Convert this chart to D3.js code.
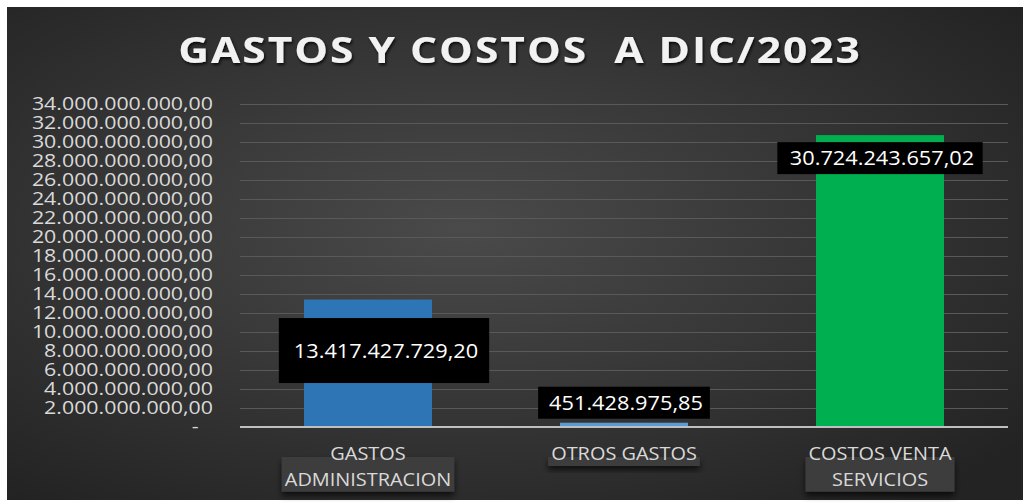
<!DOCTYPE html>
<html>
<head>
<meta charset="utf-8">
<script src="https://cdn.jsdelivr.net/npm/d3@7"></script>
<style>
  html, body { margin: 0; padding: 0; background: #ffffff; }
  svg { display: block; }
  text { font-family: "Open Sans", sans-serif; }
</style>
</head>
<body>
<div id="chart"></div>
<script>
// data
const title = "GASTOS Y COSTOS  A DIC/2023";
const categories = ["GASTOS ADMINISTRACION", "OTROS GASTOS", "COSTOS VENTA SERVICIOS"];
const categoryLines = [["GASTOS", "ADMINISTRACION"], ["OTROS GASTOS"], ["COSTOS VENTA", "SERVICIOS"]];
const values = [13417427729.20, 451428975.85, 30724243657.02];
const yTicks = d3.range(0, 34e9 + 1, 2e9);

// styles / layout
const barColors = ["#2e75b6", "#5b9bd5", "#00b050"];
// manual placement of the data labels (offset from bar centre / bar top), box size
const labelLayout = [
  {dx: 16, dy: 51, extraW: 26, h: 65},
  {dx: 0, dy: -20, extraW: 18, h: 32},
  {dx: 0, dy: 23, extraW: 21, h: 32}
];

const width = 1023, height = 502;
const margin = {top: 104, right: 15, bottom: 75, left: 240};

const svg = d3.select("#chart").append("svg")
  .attr("width", width)
  .attr("height", height);

const defs = svg.append("defs");
const grad = defs.append("radialGradient")
  .attr("id", "bg")
  .attr("cx", "45%").attr("cy", "45%").attr("r", "70%");
grad.append("stop").attr("offset", "0%").attr("stop-color", "#4a4a4a");
grad.append("stop").attr("offset", "100%").attr("stop-color", "#232323");

const titleShadow = defs.append("filter").attr("id", "titleShadow")
  .attr("x", "-10%").attr("y", "-30%").attr("width", "120%").attr("height", "160%");
titleShadow.append("feDropShadow")
  .attr("dx", 1).attr("dy", 2).attr("stdDeviation", 1.5)
  .attr("flood-color", "#000").attr("flood-opacity", 0.8);

const boxShadow = defs.append("filter").attr("id", "boxShadow")
  .attr("x", "-10%").attr("y", "-30%").attr("width", "120%").attr("height", "200%");
boxShadow.append("feDropShadow")
  .attr("dx", 0).attr("dy", 4).attr("stdDeviation", 3)
  .attr("flood-color", "#000").attr("flood-opacity", 0.7);

// chart area background
svg.append("rect")
  .attr("x", 7).attr("y", 7)
  .attr("width", width - 7).attr("height", 493)
  .attr("fill", "url(#bg)");

// title
svg.append("g")
  .attr("transform", "translate(520,63) scale(1.18,1)")
  .append("text")
  .attr("text-anchor", "middle")
  .style("white-space", "pre")
  .attr("font-size", 36)
  .attr("font-weight", 700)
  .attr("letter-spacing", 1.7)
  .attr("fill", "#f2f2f2")
  .attr("filter", "url(#titleShadow)")
  .text(title);

const x = d3.scaleBand()
  .domain(categories)
  .range([margin.left, width - margin.right])
  .paddingInner(0.5)
  .paddingOuter(0.25);

const y = d3.scaleLinear()
  .domain([0, 34e9])
  .range([height - margin.bottom, margin.top]);

const esLocale = d3.formatLocale({decimal: ",", thousands: ".", grouping: [3], currency: ["", ""]});
const fmt = esLocale.format(",.2f");

// gridlines
svg.append("g")
  .selectAll("line")
  .data(yTicks.filter(d => d > 0))
  .join("line")
  .attr("x1", margin.left)
  .attr("x2", width - margin.right)
  .attr("y1", d => Math.round(y(d)) + 0.5)
  .attr("y2", d => Math.round(y(d)) + 0.5)
  .attr("stroke", "#595959")
  .attr("stroke-width", 1);

// y axis labels
const yAxis = svg.append("g")
  .attr("transform", "translate(213,0)")
  .call(d3.axisLeft(y).tickValues(yTicks).tickSize(0).tickPadding(0)
    .tickFormat(d => d === 0 ? "-" : fmt(d)));
yAxis.select(".domain").remove();
yAxis.selectAll("text")
  .attr("font-family", "Open Sans, sans-serif")
  .attr("font-size", 17.8)
  .attr("fill", "#d9d9d9")
  .attr("x", d => d === 0 ? -12 : 0)
  .attr("transform", "scale(1.2,1)");

// bars
svg.append("g")
  .selectAll("rect")
  .data(values)
  .join("rect")
  .attr("x", (d, i) => x(categories[i]))
  .attr("width", x.bandwidth())
  .attr("y", d => y(d))
  .attr("height", d => y(0) - y(d))
  .attr("fill", (d, i) => barColors[i]);

// baseline
svg.append("line")
  .attr("x1", margin.left)
  .attr("x2", width - margin.right)
  .attr("y1", y(0))
  .attr("y2", y(0))
  .attr("stroke", "#bfbfbf")
  .attr("stroke-width", 2);

// category labels with their grey boxes
const catG = svg.append("g")
  .selectAll("g")
  .data(categoryLines)
  .join("g")
  .attr("transform", (d, i) => "translate(" + (x(categories[i]) + x.bandwidth() / 2) + ",0)");

catG.each(function (lines) {
  const g = d3.select(this);
  const box = g.append("rect")
    .attr("fill", "#3e3e3e")
    .attr("filter", "url(#boxShadow)");
  const texts = g.selectAll("g.line")
    .data(lines)
    .join("g")
    .attr("class", "line")
    .attr("transform", (d, j) => "translate(0," + (460 + j * 25.7) + ") scale(1.12,1)");
  texts.append("text")
    .attr("text-anchor", "middle")
    .attr("font-size", 17.8)
    .attr("fill", "#d9d9d9")
    .text(d => d);
  let maxW = 0;
  texts.select("text").each(function () { maxW = Math.max(maxW, this.getComputedTextLength() * 1.12); });
  const top = 457;
  const bottom = 460 + (lines.length - 1) * 25.7 + 6;
  box.attr("x", -maxW / 2 - 3).attr("width", maxW + 6)
    .attr("y", top).attr("height", bottom - top);
});

// data labels
const lblG = svg.append("g")
  .selectAll("g")
  .data(values)
  .join("g")
  .attr("transform", (d, i) => "translate(" + (x(categories[i]) + x.bandwidth() / 2 + labelLayout[i].dx) + "," + (y(d) + labelLayout[i].dy) + ")");

lblG.each(function (v, i) {
  const g = d3.select(this);
  const box = g.append("rect").attr("fill", "#000");
  const tg = g.append("g").attr("transform", "translate(2,0) scale(1.11,1)");
  const t = tg.append("text")
    .attr("text-anchor", "middle")
    .attr("dy", "0.36em")
    .attr("font-size", 19.6)
    .attr("fill", "#ffffff")
    .text(fmt(v));
  const tw = t.node().getComputedTextLength() * 1.11;
  const L = labelLayout[i];
  box.attr("x", -(tw + L.extraW) / 2).attr("width", tw + L.extraW)
    .attr("y", -L.h / 2).attr("height", L.h);
});
</script>
</body>
</html>
